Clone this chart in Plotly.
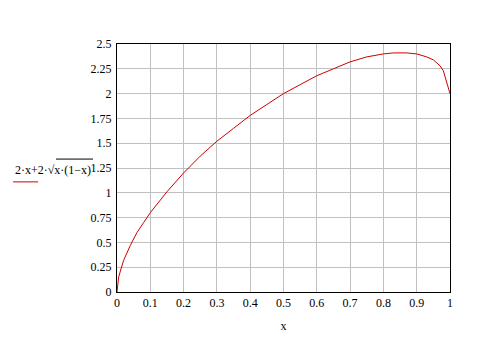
import plotly.graph_objects as go

# values
x_vals = [0, 0.005, 0.01, 0.02, 0.04, 0.06, 0.08, 0.1, 0.15, 0.2, 0.25, 0.3, 0.35, 0.4, 0.45,
          0.5, 0.55, 0.6, 0.65, 0.7, 0.75, 0.8, 0.83, 0.87, 0.9, 0.93, 0.95, 0.97, 0.98, 1.0]
y_vals = [0, 0.15, 0.21, 0.32, 0.47, 0.6, 0.70, 0.80, 1.01, 1.2, 1.37, 1.52, 1.65, 1.78, 1.89,
          2.0, 2.09, 2.18, 2.25, 2.32, 2.37, 2.40, 2.41, 2.41, 2.40, 2.37, 2.34, 2.28, 2.23, 2.0]
x_ticks = [0, 0.1, 0.2, 0.3, 0.4, 0.5, 0.6, 0.7, 0.8, 0.9, 1]
x_labels = ["0", "0.1", "0.2", "0.3", "0.4", "0.5", "0.6", "0.7", "0.8", "0.9", "1"]
y_ticks = [0, 0.25, 0.5, 0.75, 1, 1.25, 1.5, 1.75, 2, 2.25, 2.5]
y_labels = ["0", "0.25", "0.5", "0.75", "1", "1.25", "1.5", "1.75", "2", "2.25", "2.5"]

serif = "Liberation Serif, Times New Roman, serif"
font = dict(family=serif, size=12, color="black")

fig = go.Figure()
fig.add_trace(go.Scatter(x=x_vals, y=y_vals, mode="lines",
                         line=dict(color="#cc0000", width=1), showlegend=False))

fig.update_layout(
    width=496, height=343,
    margin=dict(l=117, r=46, t=44, b=51),
    paper_bgcolor="white", plot_bgcolor="white",
    font=font,
    xaxis=dict(range=[0, 1], tickvals=x_ticks, ticktext=x_labels,
               showgrid=True, gridcolor="#c0c0c0", gridwidth=1,
               showline=True, linecolor="black", linewidth=1, mirror=True,
               ticks="", zeroline=False, tickfont=font,
               title=dict(text="x", font=font, standoff=12)),
    yaxis=dict(range=[0, 2.5], tickvals=y_ticks, ticktext=y_labels,
               showgrid=True, gridcolor="#c0c0c0", gridwidth=1,
               showline=True, linecolor="black", linewidth=1, mirror=True,
               ticks="", zeroline=False, ticklabelstandoff=2, tickfont=font),
)

# legend-like label on the left
fig.add_annotation(xref="paper", yref="paper", x=-0.072, y=0.492, xanchor="right", yanchor="middle",
                   text="2·x+2·√x·(1−x)", showarrow=False, font=font)
fig.add_shape(type="line", xref="paper", yref="paper", x0=-0.183, x1=-0.072, y0=0.536, y1=0.536,
              line=dict(color="black", width=1))
fig.add_shape(type="line", xref="paper", yref="paper", x0=-0.312, x1=-0.237, y0=0.444, y1=0.444,
              line=dict(color="#cc0000", width=1))

fig.write_html("out.html")
